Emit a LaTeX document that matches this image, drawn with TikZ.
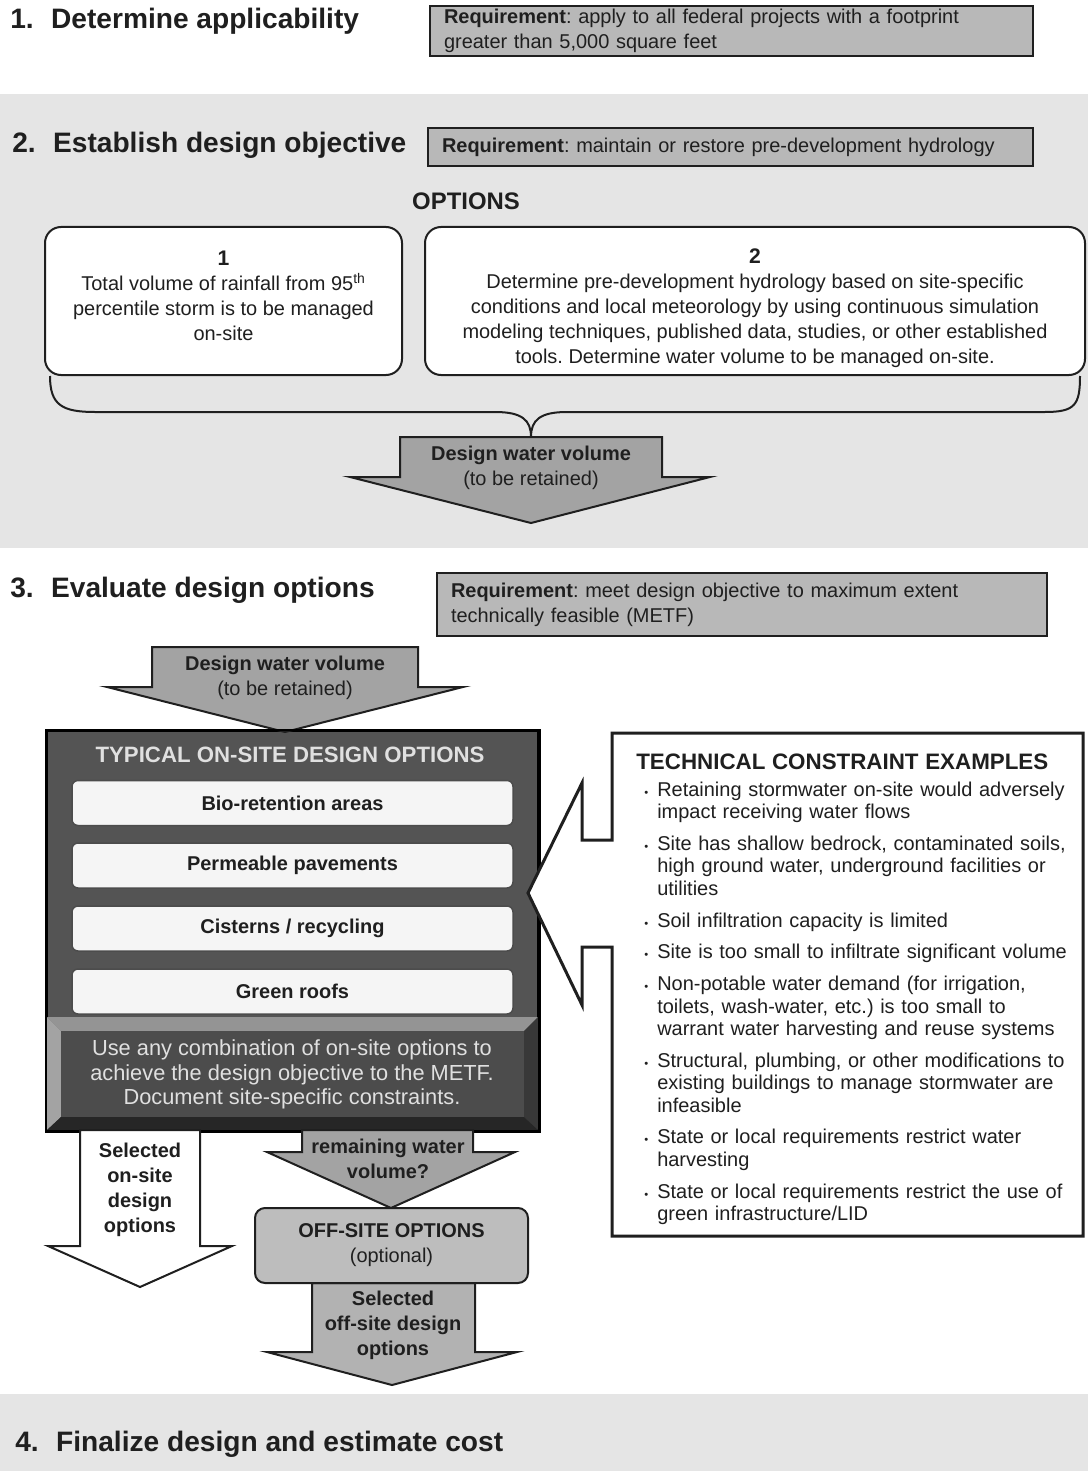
\documentclass[tikz,border=0pt]{standalone}
\usepackage{fontspec}
\setmainfont{Liberation Sans}
\usepackage{enumitem}
\usetikzlibrary{positioning}
\frenchspacing

\newlength{\pxu}
\setlength{\pxu}{0.025cm}
\newcommand{\txtfont}{\fontsize{14.2}{17.8}\selectfont}
\newcommand{\lstfont}{\fontsize{14.2}{15.9}\selectfont}
\newcommand{\hdfont}{\fontsize{20}{24}\selectfont\bfseries}

\definecolor{bandgray}{gray}{0.9}
\definecolor{reqgray}{gray}{0.72}
\definecolor{arrowgray}{gray}{0.64}
\definecolor{offgray}{gray}{0.74}
\definecolor{panelgray}{gray}{0.33}
\definecolor{inkgray}{gray}{0.12}

\tikzset{
  steptitle/.style={anchor=base west, inner sep=0pt, font=\hdfont},
  reqbox/.style={draw=inkgray, line width=2.5\pxu, fill=reqgray, inner xsep=14\pxu,
    inner ysep=0pt, align=left, font=\txtfont},
  optbox/.style={draw=inkgray, line width=2\pxu, fill=white, rounded corners=16\pxu},
  opttext/.style={align=center, font=\txtfont, inner sep=0pt},
  blockarrow/.style={draw=inkgray, line width=2\pxu, fill=arrowgray, line join=miter},
  arrowtext/.style={align=center, font=\txtfont, inner sep=0pt},
  darkpanel/.style={draw=black, line width=2.5\pxu, fill=panelgray},
  itembox/.style={draw=black!70, line width=1.5\pxu, fill=black!4, rounded corners=6\pxu,
    minimum width=441\pxu, minimum height=45\pxu, font=\txtfont\bfseries},
  paneltext/.style={align=center, inner sep=0pt, text=black!12},
  callout/.style={draw=inkgray, line width=3\pxu, fill=white, line join=miter}
}

\begin{document}
\begin{tikzpicture}[x=0.025cm, y=-0.025cm, every node/.style={text=inkgray}]
\useasboundingbox (0,0) rectangle (1088,1471);
\fill[white] (0,0) rectangle (1088,1471);
\fill[bandgray] (0,94) rectangle (1088,548);
\fill[bandgray] (0,1394) rectangle (1088,1471);

% step 1
\node[steptitle] (step1) at (10,29) {1.\hspace{0.62em}Determine applicability};
\node[reqbox, text width=575\pxu, minimum height=50\pxu] (req1) at (731.5,31)
  {\textbf{Requirement}: apply to all federal projects with a footprint\\greater than 5,000 square feet};

% step 2
\node[steptitle] (step2) at (12,153) {2.\hspace{0.62em}Establish design objective};
\node[reqbox, text width=577\pxu, minimum height=38\pxu] (req2) at (730.5,147)
  {\textbf{Requirement}: maintain or restore pre-development hydrology};
\node[font=\fontsize{17}{20}\selectfont\bfseries, inner sep=0pt] (options) at (466,201) {OPTIONS};

\node[optbox, minimum width=357\pxu, minimum height=148\pxu] (opt1) at (223.5,301) {};
\node[optbox, minimum width=660\pxu, minimum height=148\pxu] (opt2) at (755,301) {};
\node[opttext] (opt1txt) at (223.5,296) {{\bfseries\fontsize{15}{17.8}\selectfont 1}\\Total volume of rainfall from 95\textsuperscript{th}\\percentile storm is to be managed\\on-site};
\node[opttext] (opt2txt) at (755,308) {{\bfseries\fontsize{15}{17.8}\selectfont 2}\\Determine pre-development hydrology based on site-specific\\conditions and local meteorology by using continuous simulation\\modeling techniques, published data, studies, or other established\\tools. Determine water volume to be managed on-site.};

% brace
\draw[line width=2\pxu, draw=inkgray] (50,376) .. controls (50,405) and (62,412) .. (95,412)
  -- (495,412) .. controls (522,412) and (531,420) .. (531,437)
  .. controls (531,420) and (540,412) .. (567,412) -- (1045,412)
  .. controls (1075,412) and (1080,405) .. (1080,376);

\draw[blockarrow] (400,437) -- (662,437) -- (662,477) -- (710,477) -- (531,523) -- (350,477) -- (400,477) -- cycle;
\node[arrowtext] (dwv1) at (531,467.5) {\textbf{Design water volume}\\(to be retained)};

% step 3
\node[steptitle] (step3) at (10,597) {3.\hspace{0.62em}Evaluate design options};
\node[reqbox, text width=582\pxu, minimum height=63\pxu] (req3) at (742,604.5)
  {\textbf{Requirement}: meet design objective to maximum extent\\technically feasible (METF)};

\node[darkpanel, minimum width=491\pxu, minimum height=399\pxu] (onsite) at (292.5,930.5) {};
\draw[blockarrow] (152,647) -- (418,647) -- (418,687) -- (463,687) -- (285,732) -- (107,687) -- (152,687) -- cycle;
\node[arrowtext] (dwv2) at (285,677.5) {\textbf{Design water volume}\\(to be retained)};

\node[paneltext, font=\fontsize{15.8}{18}\selectfont\bfseries] (onsitehd) at (290,755) {TYPICAL ON-SITE DESIGN OPTIONS};
\node[itembox] (bio) at (292.5,803) {Bio-retention areas};
\node[itembox, below=16\pxu of bio] (perm) {Permeable pavements};
\node[itembox, below=16.5\pxu of perm] (cist) {Cisterns / recycling};
\node[itembox, below=16.5\pxu of cist] (roof) {Green roofs};

% bevelled note
\fill[black!42] (47,1017) -- (538,1017) -- (524,1031) -- (61,1031) -- cycle;
\fill[black!36] (47,1017) -- (61,1031) -- (61,1117) -- (47,1130) -- cycle;
\fill[black!78] (538,1017) -- (524,1031) -- (524,1117) -- (538,1130) -- cycle;
\fill[black!85] (47,1130) -- (61,1117) -- (524,1117) -- (538,1130) -- cycle;
\fill[black!70] (61,1031) rectangle (524,1117);
\draw[black, line width=2.5\pxu] (onsite.north west) rectangle (onsite.south east);
\node[paneltext, font=\fontsize{15.5}{17.4}\selectfont] (usenote) at (292,1074.5)
  {Use any combination of on-site options to\\achieve the design objective to the METF.\\Document site-specific constraints.};

% constraints
\draw[callout] (612,733) -- (1083,733) -- (1083,1236) -- (612,1236) -- (612,947) -- (582,947)
  -- (582,1005) -- (528,893) -- (582,783) -- (582,840) -- (612,840) -- cycle;
\node[anchor=north west, inner sep=0pt, text width=445\pxu, align=left, font=\lstfont] (tce) at (636,754) {%
  {\fontsize{15.9}{18}\selectfont\bfseries TECHNICAL CONSTRAINT EXAMPLES\par}\vspace{4\pxu}
  \begin{itemize}[nosep, leftmargin=21\pxu, labelsep=9\pxu, itemsep=9.5\pxu, label={\footnotesize\textbullet}]
  \item Retaining stormwater on-site would adversely\newline impact receiving water flows
  \item Site has shallow bedrock, contaminated soils,\newline high ground water, underground facilities or\newline utilities
  \item Soil infiltration capacity is limited
  \item Site is too small to infiltrate significant volume
  \item Non-potable water demand (for irrigation,\newline toilets, wash-water, etc.) is too small to\newline warrant water harvesting and reuse systems
  \item Structural, plumbing, or other modifications to\newline existing buildings to manage stormwater are\newline infeasible
  \item State or local requirements restrict water\newline harvesting
  \item State or local requirements restrict the use of\newline green infrastructure/LID
  \end{itemize}};

% results
\draw[blockarrow, fill=white] (80,1130) -- (200,1130) -- (200,1246) -- (232,1246) -- (140,1287) -- (48,1246) -- (80,1246) -- cycle;
\node[arrowtext, font=\txtfont\bfseries] (onsel) at (140,1190) {Selected\\on-site\\design\\options};

\draw[blockarrow] (302,1130) -- (473,1130) -- (473,1152) -- (515,1152) -- (391,1208) -- (267,1152) -- (302,1152) -- cycle;
\node[arrowtext, font=\txtfont\bfseries] (remain) at (388,1158.5) {remaining water\\volume?};

\draw[blockarrow, fill=black!30] (312,1283) -- (475,1283) -- (475,1352) -- (517,1352) -- (392,1385) -- (267,1352) -- (312,1352) -- cycle;
\node[optbox, fill=offgray, rounded corners=10\pxu, minimum width=273\pxu, minimum height=75\pxu,
  align=center, font=\txtfont] (offsite) at (391.5,1245.5) {\textbf{OFF-SITE OPTIONS}\\(optional)};
\node[arrowtext, font=\txtfont\bfseries] (offsel) at (393,1325.5) {Selected\\off-site design\\options};

% step 4
\node[steptitle] (step4) at (15,1451) {4.\hspace{0.62em}Finalize design and estimate cost};
\end{tikzpicture}
\end{document}
